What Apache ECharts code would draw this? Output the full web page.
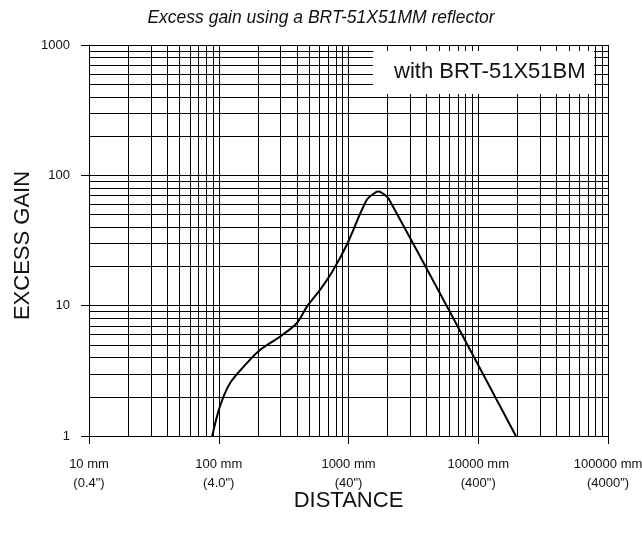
<!DOCTYPE html>
<html>
<head>
    <meta charset="utf-8">
    <script src="https://cdn.jsdelivr.net/npm/echarts@6/dist/echarts.min.js"></script>
    <style>
        body { margin: 0; background: #fff; }
    </style>
</head>
<body>
    <div id="main" style="width: 642px; height: 541px"></div>
    <script type="text/javascript">
        // distance in mm, excess gain
        var distance = [89, 102, 122, 164, 208, 296, 399, 477, 603, 763, 968, 1380, 1600, 1700, 1800, 2030, 19500];
        var gain     = [1, 1.68, 2.54, 3.61, 4.57, 5.78, 7.33, 9.8, 13.2, 18.8, 29.2, 64.7, 73.5, 75, 73.5, 66.7, 1];

        var xTickValues = [10, 100, 1000, 10000, 100000];
        var xTickMm = ['10 mm', '100 mm', '1000 mm', '10000 mm', '100000 mm'];
        var xTickIn = ['(0.4")', '(4.0")', '(40")', '(400")', '(4000")'];
        var yTickValues = [1, 10, 100, 1000];

        var fontFam = '"Liberation Sans", Arial, sans-serif';

        window.onload = function () {
            chart();
        }

        function minorLines(lo, hi) {
            var out = [];
            for (var dec = lo; dec < hi; dec *= 10) {
                for (var k = 2; k <= 9; k++) out.push(dec * k);
            }
            return out;
        }

        function chart() {
            var myChart = echarts.init(document.getElementById('main'));
            var pts = [];
            for (var i = 0; i < distance.length; i++) {
                pts.push([distance[i], gain[i]]);
            }
            var gridLines = [];
            minorLines(10, 100000).forEach(function (v) { gridLines.push({ xAxis: v }); });
            minorLines(1, 1000).forEach(function (v) { gridLines.push({ yAxis: v }); });

            var option = {
                animation: false,
                title: {
                    left: 'center',
                    top: 4,
                    text: 'Excess gain using a BRT-51X51MM reflector',
                    textStyle: {
                        fontFamily: fontFam,
                        fontStyle: 'italic',
                        fontWeight: 'normal',
                        fontSize: 17.5,
                        color: '#111'
                    }
                },
                grid: {
                    left: 89,
                    right: 34,
                    top: 45,
                    bottom: 105,
                    containLabel: false,
                    outerBoundsMode: 'none'
                },
                xAxis: {
                    type: 'log',
                    logBase: 10,
                    min: 10,
                    max: 100000,
                    name: 'DISTANCE',
                    nameLocation: 'middle',
                    nameGap: 54,
                    nameMoveOverlap: false,
                    nameTextStyle: { fontFamily: fontFam, fontSize: 22, color: '#111' },
                    axisLine: { lineStyle: { color: '#000', width: 1 } },
                    axisTick: { show: true, inside: false, length: 8, lineStyle: { color: '#000' } },
                    axisLabel: {
                        margin: 19,
                        fontFamily: fontFam,
                        fontSize: 13,
                        lineHeight: 19,
                        color: '#111',
                        formatter: function (v) {
                            var idx = xTickValues.indexOf(Math.round(v));
                            if (idx < 0) return '';
                            return xTickMm[idx] + '\n' + xTickIn[idx];
                        }
                    },
                    splitLine: { show: true, lineStyle: { color: '#000', width: 1 } }
                },
                yAxis: {
                    type: 'log',
                    logBase: 10,
                    min: 1,
                    max: 1000,
                    name: 'EXCESS GAIN',
                    nameLocation: 'middle',
                    nameRotate: 90,
                    nameGap: 55,
                    nameMoveOverlap: false,
                    nameTextStyle: { fontFamily: fontFam, fontSize: 22, color: '#111', padding: [0, 10, 0, 0] },
                    axisLine: { show: true, lineStyle: { color: '#000', width: 1 } },
                    axisTick: { show: true, inside: false, length: 8, lineStyle: { color: '#000' } },
                    axisLabel: {
                        margin: 19,
                        fontFamily: fontFam,
                        fontSize: 13,
                        color: '#111',
                        formatter: function (v) {
                            var idx = yTickValues.indexOf(Math.round(v));
                            return idx < 0 ? '' : String(yTickValues[idx]);
                        }
                    },
                    splitLine: { show: true, lineStyle: { color: '#000', width: 1 } }
                },
                series: [{
                    type: 'line',
                    data: pts,
                    smooth: 0.3,
                    showSymbol: false,
                    lineStyle: { color: '#000', width: 2 },
                    markLine: {
                        silent: true,
                        symbol: 'none',
                        label: { show: false },
                        lineStyle: { color: '#000', width: 1, type: 'solid' },
                        data: gridLines
                    },
                    z: 5
                }],
                graphic: [{
                    type: 'rect',
                    left: 373,
                    top: 51,
                    z: 100,
                    shape: { width: 220, height: 42 },
                    style: { fill: '#fff', stroke: '#fff' }
                }, {
                    type: 'text',
                    left: 394,
                    top: 61,
                    z: 101,
                    style: {
                        text: 'with BRT-51X51BM',
                        fontFamily: fontFam,
                        fontSize: 22,
                        fill: '#111'
                    }
                }]
            };
            myChart.setOption(option);
        }
    </script>
</body>
</html>
